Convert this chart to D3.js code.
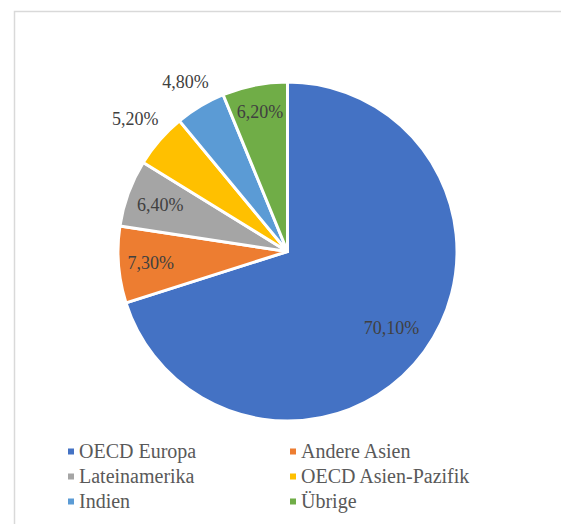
<!DOCTYPE html>
<html>
<head>
<meta charset="utf-8">
<script src="https://cdn.jsdelivr.net/npm/d3@7"></script>
<style>
  html, body { margin: 0; padding: 0; background: #fff; }
  svg { display: block; }
</style>
</head>
<body>
<svg id="chart" width="561" height="524"></svg>
<script>
// data
const categories = ['OECD Europa', 'Andere Asien', 'Lateinamerika', 'OECD Asien-Pazifik', 'Indien', 'Übrige'];
const shares = [70.1, 7.3, 6.4, 5.2, 4.8, 6.2];
const labels = ['70,10%', '7,30%', '6,40%', '5,20%', '4,80%', '6,20%'];
const colors = ['#4472C4', '#ED7D31', '#A5A5A5', '#FFC000', '#5B9BD5', '#70AD47'];

// label distance from centre, as fraction of radius (best-fit placement)
const labelPos = [0.76, 0.81, 0.8, 1.19, 1.17, 0.84];

const FONT = 'Liberation Serif';
const svg = d3.select('#chart');
const W = 561, H = 524;
const cx = 287.5, cy = 251.5, R = 169.5;

// chart frame (cut off at right/bottom)
svg.append('rect')
    .attr('x', 14.5).attr('y', 11.5)
    .attr('width', W + 10).attr('height', H + 10)
    .attr('fill', 'none')
    .attr('stroke', '#d9d9d9')
    .attr('stroke-width', 1.5);

const pie = d3.pie().sort(null).value(d => d);
const arcs = pie(shares);
const arc = d3.arc().innerRadius(0).outerRadius(R);

const g = svg.append('g').attr('transform', `translate(${cx},${cy})`);

g.selectAll('path')
    .data(arcs)
    .enter().append('path')
    .attr('d', arc)
    .attr('fill', (d, i) => colors[i])
    .attr('stroke', '#fff')
    .attr('stroke-width', 3)
    .attr('stroke-linejoin', 'round');

g.selectAll('text')
    .data(arcs)
    .enter().append('text')
    .attr('transform', (d, i) => {
        const k = labelPos[i] * R;
        const c = d3.arc().innerRadius(k).outerRadius(k).centroid(d);
        return `translate(${c[0]},${c[1]})`;
    })
    .attr('text-anchor', 'middle')
    .attr('dy', '0.35em')
    .attr('font-family', FONT)
    .attr('font-size', 18)
    .attr('fill', '#404040')
    .text((d, i) => labels[i]);

// legend
const legend = svg.append('g');
const colX = [68, 290];
const rowY = [458, 483, 508];

const items = legend.selectAll('g')
    .data(categories)
    .enter().append('g')
    .attr('transform', (d, i) => `translate(${colX[i % 2]},${rowY[Math.floor(i / 2)]})`);

items.append('rect')
    .attr('x', 0).attr('y', -9.5)
    .attr('width', 6).attr('height', 6)
    .attr('fill', (d, i) => colors[i]);

items.append('text')
    .attr('x', 11).attr('y', 0)
    .attr('font-family', FONT)
    .attr('font-size', 20)
    .attr('fill', '#595959')
    .text(d => d);
</script>
</body>
</html>
